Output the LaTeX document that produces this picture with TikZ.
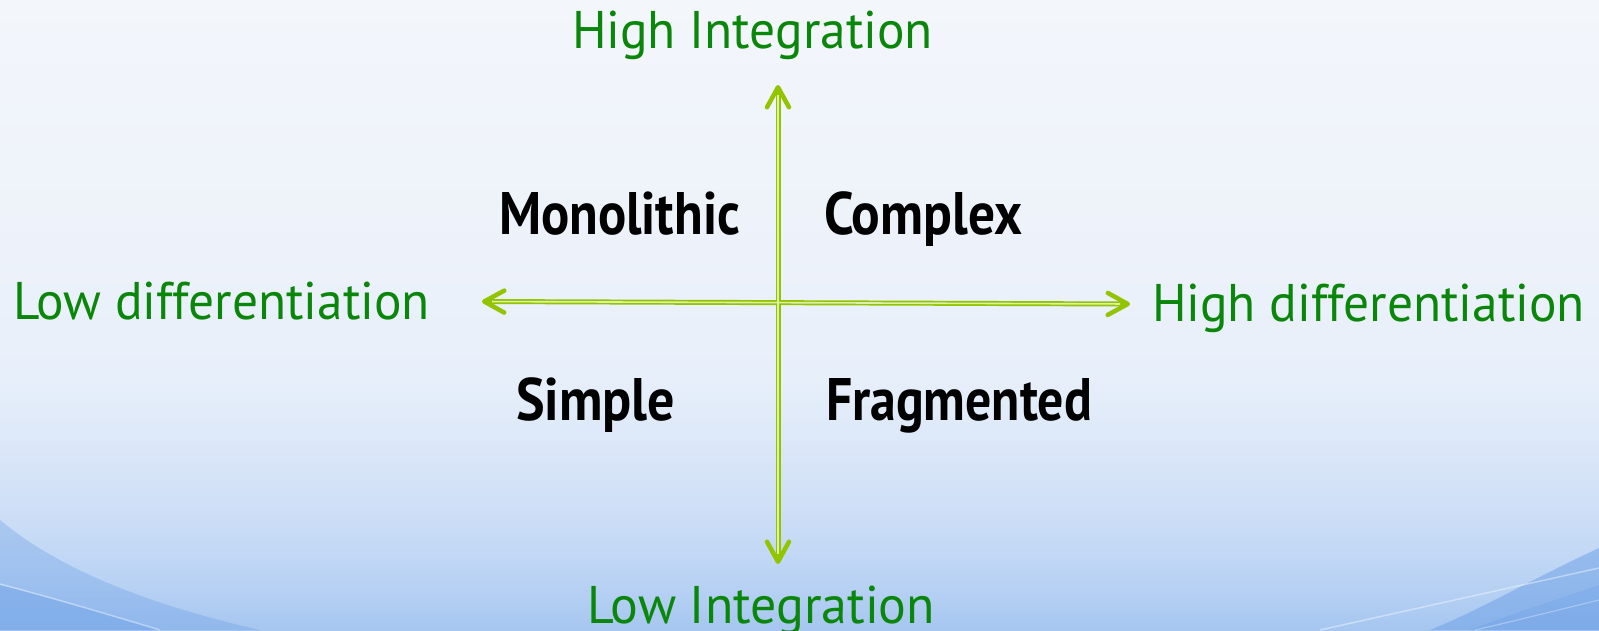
\documentclass[tikz,border=0pt]{standalone}
\usepackage{fontspec}
\usepackage{graphicx}
\usetikzlibrary{arrows.meta}
\newfontfamily\lblfont{PT Sans}
\newfontfamily\quadfont{PT Sans}
\definecolor{bgA}{HTML}{A6C6F0}
\definecolor{bgB}{HTML}{BAD3F4}
\definecolor{bgC}{HTML}{C9DCF6}
\definecolor{bgD}{HTML}{DAE6F8}
\definecolor{bgE}{HTML}{E7EFFA}
\definecolor{bgF}{HTML}{EDF2FA}
\definecolor{bgG}{HTML}{F3F6FB}
\definecolor{swoosh}{HTML}{6A9FE6}
\definecolor{lblgreen}{HTML}{0A860A}
\definecolor{axisgreen}{HTML}{93C400}
\definecolor{axisgap}{HTML}{DDEFA8}
\pgfdeclareverticalshading{bgshade}{100bp}{color(0bp)=(bgA); color(25bp)=(bgA); color(29bp)=(bgB); color(33bp)=(bgC); color(39bp)=(bgD); color(45bp)=(bgE); color(55bp)=(bgF); color(75bp)=(bgG); color(100bp)=(bgG)}
\newcommand{\fitw}[2]{\resizebox{#1pt}{\height}{#2}}
\tikzset{
  axislabel/.style={font=\lblfont\fontsize{53}{60}\selectfont, text=lblgreen, inner sep=0pt, outer sep=0pt, anchor=base west},
  quadlabel/.style={font=\quadfont\bfseries\fontsize{60}{68}\selectfont, text=black, inner sep=0pt, outer sep=0pt, anchor=base west},
  axisline/.style={draw=axisgreen, line width=5pt,
    {Straight Barb[length=20pt,width=22pt,line width=4.5pt,round]}-{Straight Barb[length=20pt,width=22pt,line width=4.5pt,round]}},
  axisgapline/.style={draw=axisgap, line width=1.6pt, shorten <=10pt, shorten >=10pt},
}
\begin{document}
\begin{tikzpicture}[x=1pt,y=-1pt]
\useasboundingbox (0,0) rectangle (1599,630);
% background
\shade[shading=bgshade] (0,0) rectangle (1599,630);
\fill[swoosh, opacity=0.35] (0,520) .. controls (60,570) and (150,605) .. (260,630) -- (0,630) -- cycle;
\fill[swoosh, opacity=0.4] (0,585) .. controls (60,600) and (110,615) .. (160,630) -- (0,630) -- cycle;
\draw[white, opacity=0.4, line width=1.5pt] (0,584) .. controls (60,600) and (110,615) .. (160,630);
\fill[swoosh, opacity=0.5] (1599,548) .. controls (1530,580) and (1480,610) .. (1430,630) -- (1599,630) -- cycle;
\fill[swoosh, opacity=0.3] (1599,585) .. controls (1540,605) and (1500,618) .. (1470,630) -- (1599,630) -- cycle;
\draw[white, opacity=0.4, line width=1.5pt] (1599,568) .. controls (1500,590) and (1400,612) .. (1320,630);
\draw[white, opacity=0.3, line width=1.2pt] (1599,600) .. controls (1550,612) and (1510,622) .. (1475,630);

% axis end points
\coordinate (hl) at (482,301.5);
\coordinate (hr) at (1130,304);
\coordinate (vt) at (778,85);
\coordinate (vb) at (778,564);

\draw[axisline] (hl) -- (hr);
\draw[axisline] (vt) -- (vb);
\draw[axisgapline] (hl) -- (hr);
\draw[axisgapline] (vt) -- (vb);

% axis labels
\node[axislabel] (hiint) at (572,48) {\fitw{361}{High Integration}};
\node[axislabel] (loint) at (587,623) {\fitw{348}{Low Integration}};
\node[axislabel] (lodiff) at (13,319) {\fitw{417}{Low differentiation}};
\node[axislabel] (hidiff) at (1152,321) {\fitw{433}{High differentiation}};

% quadrant labels
\node[quadlabel] (mono) at (499,234) {\fitw{241}{Monolithic}};
\node[quadlabel] (cplx) at (824,234) {\fitw{198}{Complex}};
\node[quadlabel] (simp) at (516,420) {\fitw{159}{Simple}};
\node[quadlabel] (frag) at (826,420) {\fitw{266}{Fragmented}};
\end{tikzpicture}
\end{document}
